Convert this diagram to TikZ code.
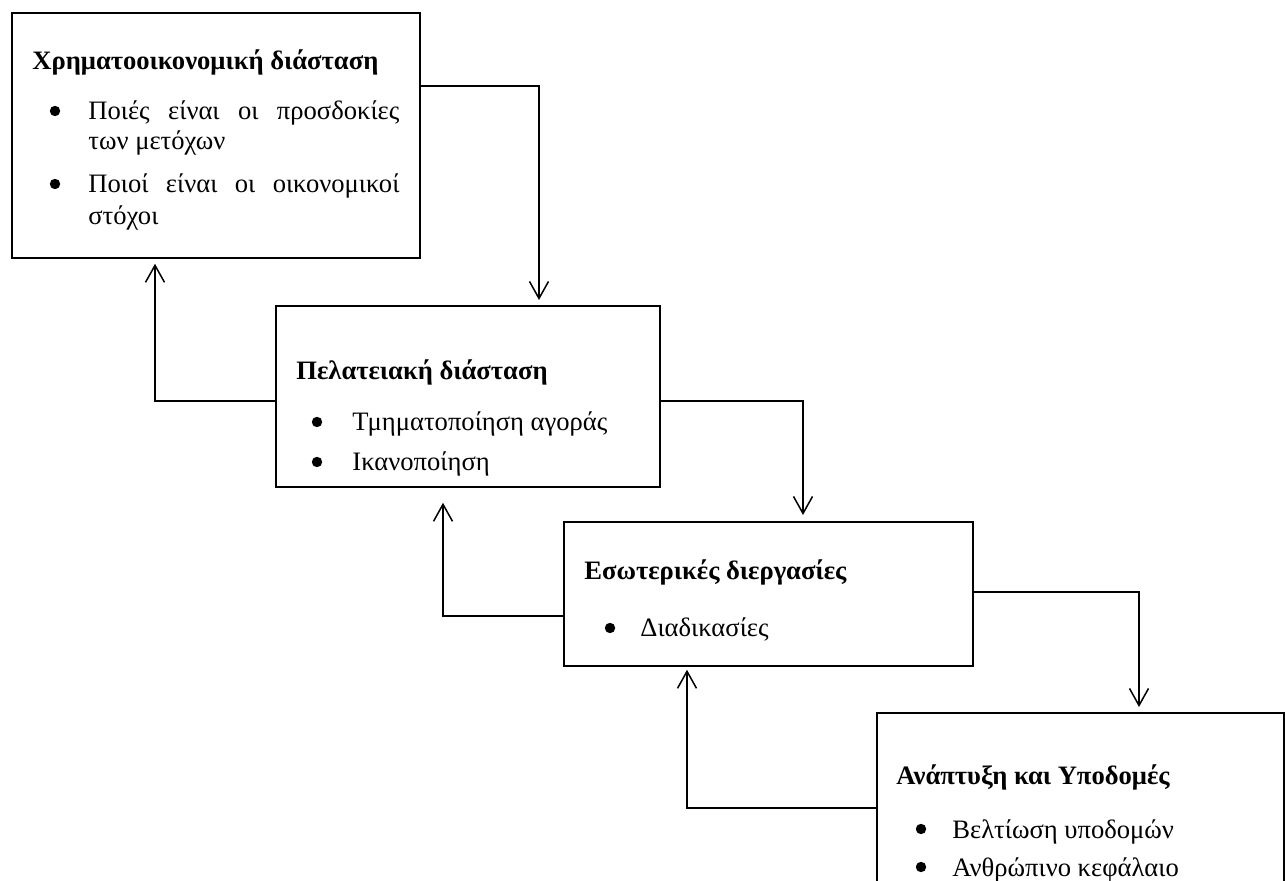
\documentclass[tikz,border=0pt]{standalone}
\usepackage{fontspec}
\setmainfont{Liberation Serif}
\usetikzlibrary{arrows.meta}
\begin{document}
\begin{tikzpicture}[x=0.5pt,y=-0.5pt,
		box/.style={draw, line width=0.9pt, inner sep=0pt, anchor=north west},
		head/.style={anchor=base west, inner sep=0pt, font=\fontsize{13.3}{16}\selectfont\bfseries},
		line/.style={anchor=base west, inner sep=0pt, font=\fontsize{13.3}{16}\selectfont},
		dot/.style={circle, fill, inner sep=0pt, minimum size=5.2pt},
		link/.style={-{Straight Barb[length=8.5pt,width=9.5pt]}, line width=0.75pt}]
			\useasboundingbox (0,0) rectangle (1285,881);
			\clip (0,0) rectangle (1285,881);
			
			% boxes
			\node[box, minimum width=204pt, minimum height=122.5pt] (fin) at (11,12) {};
			\node[box, minimum width=192pt, minimum height=90.5pt] (cust) at (275,305) {};
			\node[box, minimum width=204.5pt, minimum height=72pt] (proc) at (563,521) {};
			\node[box, minimum width=203.5pt, minimum height=150pt] (grow) at (876,712) {};
			
			% Χρηματοοικονομική διάσταση
			\node[head] (finhead) at (32,70) {Χρηματοοικονομική διάσταση};
			\node[dot] (findot1) at (55,111) {};
			\node[line] (finl1) at (88,120) {\makebox[155.5pt][s]{Ποιές είναι οι προσδοκίες}};
			\node[line] (finl2) at (88,150) {των μετόχων};
			\node[dot] (findot2) at (55,184) {};
			\node[line] (finl3) at (88,193) {\makebox[155.5pt][s]{Ποιοί είναι οι οικονομικοί}};
			\node[line] (finl4) at (88,225) {στόχοι};
			
			% Πελατειακή διάσταση
			\node[head] (custhead) at (296,380) {Πελατειακή διάσταση};
			\node[dot] (custdot1) at (317,422) {};
			\node[line] (custl1) at (352,431) {Τμηματοποίηση αγοράς};
			\node[dot] (custdot2) at (317,462) {};
			\node[line] (custl2) at (352,471) {Ικανοποίηση};
			
			% Εσωτερικές διεργασίες
			\node[head] (prochead) at (584,580) {Εσωτερικές διεργασίες};
			\node[dot] (procdot1) at (610,628) {};
			\node[line] (procl1) at (640,637) {Διαδικασίες};
			
			% Ανάπτυξη και Υποδομές
			\node[head] (growhead) at (896,784) {Ανάπτυξη και Υποδομές};
			\node[dot] (growdot1) at (921,829) {};
			\node[line] (growl1) at (952,838) {Βελτίωση υποδομών};
			\node[dot] (growdot2) at (921,867) {};
			\node[line] (growl2) at (952,876) {Ανθρώπινο κεφάλαιο};
			
			% connectors
			\draw[link, shorten >=2.5pt] (fin.east |- 0,86) -| (cust.north -| 539,0);
			\draw[link, shorten >=2.5pt] (cust.west |- 0,401) -| (fin.south -| 155,0);
			\draw[link, shorten >=3pt] (cust.east |- 0,401) -| (proc.north -| 803,0);
			\draw[link, shorten >=7.5pt] (proc.west |- 0,616) -| (cust.south -| 443,0);
			\draw[link, shorten >=2.5pt] (proc.east |- 0,592) -| (grow.north -| 1139,0);
			\draw[link, shorten >=1.5pt] (grow.west |- 0,808) -| (proc.south -| 687,0);
		\end{tikzpicture}
\end{document}
